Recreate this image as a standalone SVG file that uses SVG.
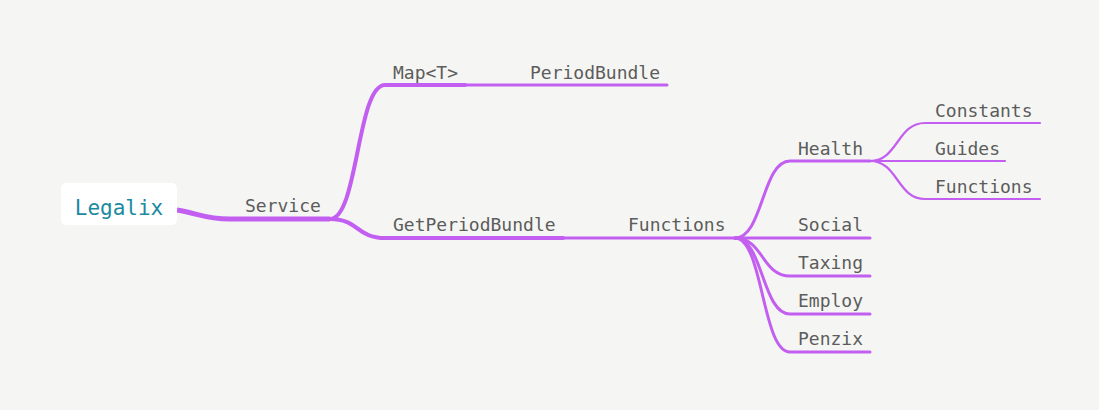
<svg xmlns="http://www.w3.org/2000/svg" width="1099" height="410" viewBox="0 0 1099 410">
<style>
.t{font-family:"DejaVu Sans Mono","Liberation Mono",monospace;font-size:18px;fill:#5c5c5c}
.c{fill:none;stroke:#c25ff1;stroke-linecap:round}
.w4{stroke-width:4}
.w3{stroke-width:3}
.w2{stroke-width:2.2}
</style>
<rect width="1099" height="410" fill="#f5f6f3"/>
<g id="connectors">
<path d="M177,210 C200,214 205,219 230,219 L330,219" fill="none" stroke="#c25ff1" stroke-width="5"/>
<path class="c w4" d="M330,219 C358,219 357,85 385,85 L465,85"/>
<path class="c w3" d="M465,85 L667,85"/>
<path class="c w4" d="M330,219 C358,219 357,238 385,238 L563,238"/>
<path class="c w3" d="M563,238 L735,238"/>
<path class="c w3" d="M735,238 C763,238 762,161 790,161 L870,161"/>
<path class="c w3" d="M735,238 L870,238"/>
<path class="c w3" d="M735,238 C763,238 762,276 790,276 L870,276"/>
<path class="c w3" d="M735,238 C763,238 762,314 790,314 L870,314"/>
<path class="c w3" d="M735,238 C763,238 762,352 790,352 L870,352"/>
<path class="c w2" d="M870,161 C898,161 897,123 925,123 L1040,123"/>
<path class="c w2" d="M870,161 L1005,161"/>
<path class="c w2" d="M870,161 C898,161 897,199 925,199 L1040,199"/>
</g>
<g id="root">
<rect x="61" y="183" width="116" height="42" rx="5" fill="#ffffff"/>
<text x="119" y="215" text-anchor="middle" font-family="DejaVu Sans Mono, monospace" font-size="21" fill="#1a8a9f">Legalix</text>
</g>
<g id="service"><text class="t" x="245" y="212">Service</text></g>
<g id="map"><text class="t" x="393" y="79">Map&lt;T&gt;</text></g>
<g id="periodbundle"><text class="t" x="530" y="79">PeriodBundle</text></g>
<g id="getperiodbundle"><text class="t" x="393" y="231">GetPeriodBundle</text></g>
<g id="functions"><text class="t" x="628" y="231">Functions</text></g>
<g id="health"><text class="t" x="798" y="155">Health</text></g>
<g id="constants"><text class="t" x="935" y="117">Constants</text></g>
<g id="guides"><text class="t" x="935" y="155">Guides</text></g>
<g id="functions2"><text class="t" x="935" y="193">Functions</text></g>
<g id="social"><text class="t" x="798" y="231">Social</text></g>
<g id="taxing"><text class="t" x="798" y="269">Taxing</text></g>
<g id="employ"><text class="t" x="798" y="307">Employ</text></g>
<g id="penzix"><text class="t" x="798" y="345">Penzix</text></g>
</svg>
